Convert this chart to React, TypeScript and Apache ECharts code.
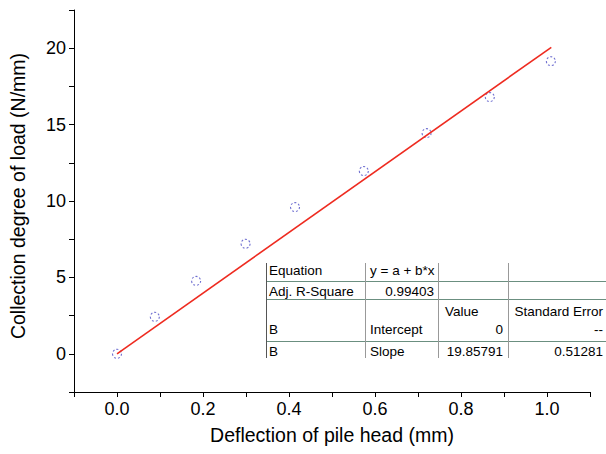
import React, { useEffect, useRef } from "react";
import * as echarts from "echarts";

const deflection = [0, 0.088, 0.184, 0.299, 0.414, 0.574, 0.72, 0.867, 1.009];
const loadDegree = [0, 2.42, 4.77, 7.2, 9.6, 11.96, 14.44, 16.8, 19.15];
const fitX = [0, 1.01];
const fitY = [0, 20.06];
const xTickLabels = ["0.0", "0.2", "0.4", "0.6", "0.8", "1.0"];
const yTickLabels = ["0", "5", "10", "15", "20"];

const tableRows = [
  ["Equation", "y = a + b*x", "", ""],
  ["Adj. R-Square", "0.99403", "", ""],
  ["", "", "Value", "Standard Error"],
  ["B", "Intercept", "0", "--"],
  ["B", "Slope", "19.85791", "0.51281"],
];

export default function App() {
  const ref = useRef<HTMLDivElement>(null);
  useEffect(() => {
    if (!ref.current) return;
    const chart = echarts.init(ref.current, null, { renderer: "svg" });
    const font = "Liberation Sans, Arial, sans-serif";
    const tf = "13.5px Liberation Sans, Arial, sans-serif";
    const txt = (text: string, x: number, y: number, align: string) => ({
      type: "text",
      x,
      y,
      z: 100,
      style: { text, font: tf, fill: "#000", align, verticalAlign: "middle" },
    });
    const hl = (y: number) => ({
      type: "line",
      z: 99,
      shape: { x1: 266, y1: y + 0.5, x2: 606, y2: y + 0.5 },
      style: { stroke: "#6b8f80", lineWidth: 1 },
    });
    const vl = (x: number, c: string) => ({
      type: "line",
      z: 99,
      shape: { x1: x + 0.5, y1: 263, x2: x + 0.5, y2: 358 },
      style: { stroke: c, lineWidth: 1 },
    });
    const rowY = [270, 291, 311, 329, 351];
    const graphics: any[] = [
      hl(281), hl(299), hl(341),
      vl(266, "#555"), vl(365, "#999"), vl(438, "#999"), vl(508, "#999"),
    ];
    tableRows.forEach((r, i) => {
      if (r[0]) graphics.push(txt(r[0], 269, rowY[i], "left"));
      if (r[1]) {
        if (i === 1) graphics.push(txt(r[1], 434, rowY[i], "right"));
        else graphics.push(txt(r[1], 370, rowY[i], "left"));
      }
      if (r[2]) {
        if (i === 2) graphics.push(txt(r[2], 445, rowY[i], "left"));
        else graphics.push(txt(r[2], 503, rowY[i], "right"));
      }
      if (r[3]) graphics.push(txt(r[3], 603, rowY[i], "right"));
    });

    chart.setOption({
      animation: false,
      backgroundColor: "#fff",
      grid: { left: 74, right: 16, top: 10, bottom: 62, containLabel: false },
      xAxis: {
        type: "value",
        min: -0.1,
        max: 1.1,
        interval: 0.1,
        name: "Deflection of pile head (mm)",
        nameLocation: "middle",
        nameGap: 33,
        nameTextStyle: { fontFamily: font, fontSize: 19.5, color: "#000" },
        axisLine: { onZero: false, lineStyle: { color: "#000", width: 1 } },
        axisTick: { show: true, inside: false, length: 5, lineStyle: { color: "#000" } },
        axisLabel: {
          margin: 8,
          fontFamily: font,
          fontSize: 18,
          color: "#000",
          showMinLabel: true,
          showMaxLabel: true,
          formatter: (v: number) => {
            const s = v.toFixed(1);
            return xTickLabels.includes(s) ? s : "";
          },
        },
        splitLine: { show: false },
      },
      yAxis: {
        type: "value",
        min: -2.5,
        max: 22.5,
        interval: 2.5,
        name: "Collection degree of load (N/mm)",
        nameLocation: "middle",
        nameGap: 46,
        nameTextStyle: { fontFamily: font, fontSize: 19.5, color: "#000", padding: [0, 0, 0, 10] },
        axisLine: { show: true, onZero: false, lineStyle: { color: "#000", width: 1 } },
        axisTick: { show: true, inside: false, length: 5, lineStyle: { color: "#000" } },
        axisLabel: {
          margin: 8,
          fontFamily: font,
          fontSize: 18,
          color: "#000",
          formatter: (v: number) => {
            const s = String(Math.round(v * 10) / 10);
            return yTickLabels.includes(s) ? s : "";
          },
        },
        splitLine: { show: false },
      },
      series: [
        {
          type: "line",
          data: fitX.map((x, i) => [x, fitY[i]]),
          symbol: "none",
          lineStyle: { color: "#ee2b20", width: 1.6 },
          z: 3,
        },
        {
          type: "scatter",
          data: deflection.map((x, i) => [x, loadDegree[i]]),
          symbol: "circle",
          symbolSize: 9,
          itemStyle: {
            color: "rgba(255,255,255,0)",
            borderColor: "#4a4ac4",
            borderWidth: 1.1,
            borderType: [2, 2],
          },
          z: 2,
        },
      ],
      graphic: graphics,
    });
    return () => chart.dispose();
  }, []);
  return (
    <div
      ref={ref}
      style={{ position: "fixed", left: 0, top: 0, width: 606, height: 454, background: "#fff" }}
    />
  );
}
